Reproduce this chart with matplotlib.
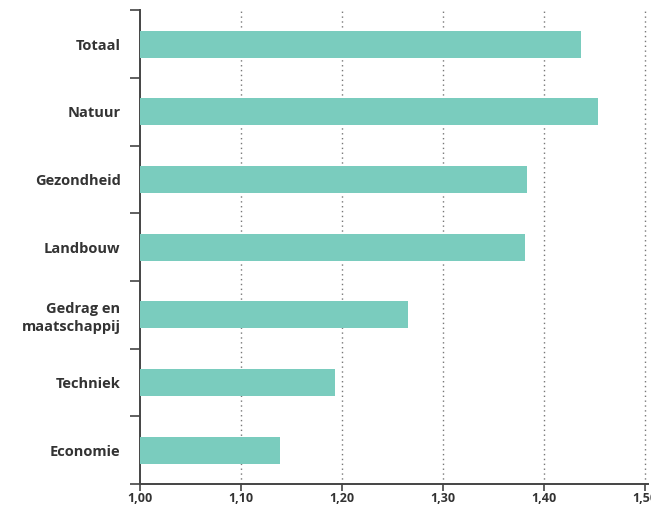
import matplotlib
matplotlib.use('Agg')
import matplotlib.pyplot as plt
import numpy as np

# data
categories = ['Totaal', 'Natuur', 'Gezondheid', 'Landbouw', 'Gedrag en\nmaatschappij', 'Techniek', 'Economie']
values = [1.437, 1.454, 1.383, 1.381, 1.266, 1.193, 1.139]
xticks = [1.0, 1.1, 1.2, 1.3, 1.4, 1.5]
xtick_labels = ['1,00', '1,10', '1,20', '1,30', '1,40', '1,50']

plt.rcParams['font.family'] = ['Open Sans', 'DejaVu Sans']

fig = plt.figure(figsize=(6.51, 5.11), dpi=100)
ax = fig.add_axes([0.215, 0.053, 0.78, 0.927])

ypos = np.arange(len(categories))
ax.barh(ypos, [v - 1.0 for v in values], left=1.0, height=0.4, color='#7accbe', zorder=3)

ax.set_ylim(len(categories) - 0.5, -0.5)
ax.set_xlim(1.0, 1.503)

#dotted vertical gridlines
for x in xticks[1:]:
    ax.axvline(x, color='#777777', linestyle=(0, (1, 2.5)), linewidth=1.0, zorder=1)

ax.set_yticks(ypos)
ax.set_yticklabels(categories, fontsize=10.5, fontweight='bold', color='#333333', ha='right', linespacing=1.3)
ax.tick_params(axis='y', which='major', length=0, pad=14)
ax.set_yticks(np.arange(-0.5, len(categories), 1), minor=True)
ax.tick_params(axis='y', which='minor', length=7, width=1.2, color='#444444', direction='out')

ax.set_xticks(xticks)
ax.set_xticklabels(xtick_labels, fontsize=9, fontweight='bold', color='#333333')
ax.tick_params(axis='x', length=5, width=1.2, color='#444444', direction='out', pad=0.5)

for s in ['top', 'right']:
    ax.spines[s].set_visible(False)
for s in ['left', 'bottom']:
    ax.spines[s].set_color('#444444')
    ax.spines[s].set_linewidth(1.4)

fig.savefig('out.png', dpi=100)
